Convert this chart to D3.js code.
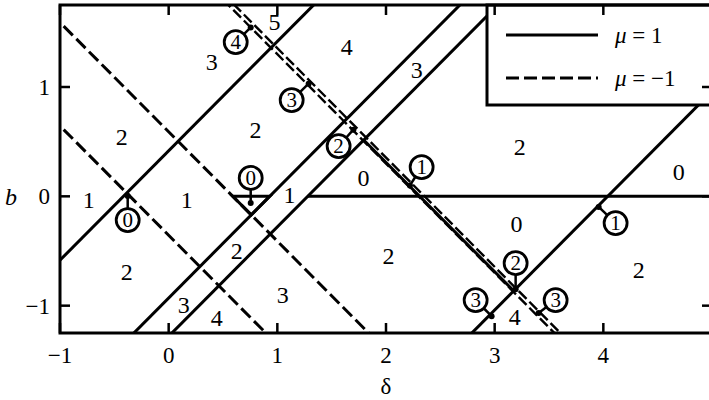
<!DOCTYPE html>
<html><head><meta charset="utf-8">
<script src="https://cdn.jsdelivr.net/npm/d3@7/dist/d3.min.js"></script>
<style>
body{margin:0;background:#fff}
svg text{font-family:"Liberation Serif","Times New Roman",Times,serif}
</style>
</head><body>
<svg id="chart" width="709" height="400"></svg>
<script>
// ---------- data ----------
const xDomain = [-1, 5];
const yDomain = [-1.25, 1.75];
const xTicks = [-1, 0, 1, 2, 3, 4];
const yTicks = [-1, 0, 1];
const xTickLabels = ["\u22121", "0", "1", "2", "3", "4"];
const yTickLabels = ["\u22121", "0", "1"];

// boundary lines b = slope*δ + intercept, drawn for δ in [from, to]
const solidSlopes     = [1, 1, 1, 1, -1, 0];
const solidIntercepts = [0.416, -0.93, -1.28, -4.04, 2.31, 0];
const solidFrom       = [-1.2, -0.5, -0.1, 2.6, 1.795, 1.28];
const solidTo         = [1.5, 2.8, 3.2, 5.2, 3.175, 5.2];

const dashedSlopes     = [-1, -1, -1, -1];
const dashedIntercepts = [0.59, -0.356, 2.30, 2.355];
const dashedFrom       = [-1.2, -1.2, 0.4, 0.4];
const dashedTo         = [2.0, 1.1, 3.7, 3.7];

// small solid triangle
const triangleDelta = [0.59, 0.93, 0.76];
const triangleB     = [0, 0, -0.17];

// region labels
const regionText  = ["5","4","3","3","2","2","2","0","1","1","1","0","0","2","2","2","2","3","3","4","4"];
const regionDelta = [0.975,1.638,0.396,2.282,-0.432,0.80,3.23,4.693,-0.736,0.166,1.113,1.794,3.202,-0.386,0.626,2.024,4.325,0.138,1.049,0.442,3.184];
const regionB     = [1.594,1.366,1.228,1.155,0.542,0.606,0.451,0.222,-0.034,-0.034,0.012,0.167,-0.253,-0.692,-0.492,-0.546,-0.674,-0.994,-0.903,-1.113,-1.104];

// circled callouts: number, circle centre, pointed point
const calloutText    = ["4","3","2","1","0","0","1","2","3","3"];
const calloutDelta   = [0.617,1.132,1.564,2.328,0.755,-0.377,4.113,3.193,2.825,3.561];
const calloutB       = [1.411,0.880,0.460,0.268,0.168,-0.217,-0.245,-0.611,-0.949,-0.949];
const calloutToDelta = [0.755,1.288,1.70,2.22,0.755,-0.377,3.957,3.193,2.972,3.405];
const calloutToB     = [1.545,1.03,0.61,0.10,-0.061,0.003,-0.097,-0.85,-1.096,-1.066];

const legendLabels = ["1", "\u22121"];

// ---------- layout ----------
const svg = d3.select("#chart");
const margin = {left: 60, top: 5, right: -3, bottom: 67};
const W = 709, H = 400;
const x = d3.scaleLinear().domain(xDomain).range([margin.left, W - margin.right]);
const y = d3.scaleLinear().domain(yDomain).range([H - margin.bottom, margin.top]);

function txt(g, px, py, s, size, anchor) {
  return g.append("text").attr("x", px).attr("y", py).attr("dy", "0.35em")
    .attr("text-anchor", anchor || "middle")
    .attr("font-family", "Liberation Serif")
    .attr("font-size", size)
    .attr("style", "font-family:'Liberation Serif',serif;font-size:" + size + "px;fill:#000")
    .text(s);
}

svg.append("defs").append("clipPath").attr("id", "clip")
  .append("rect").attr("x", x(xDomain[0])).attr("y", y(yDomain[1]))
  .attr("width", x(xDomain[1]) - x(xDomain[0])).attr("height", y(yDomain[0]) - y(yDomain[1]));

const plot = svg.append("g").attr("clip-path", "url(#clip)");

function seg(s, c, a, b) { return [[a, s * a + c], [b, s * b + c]]; }
const line = d3.line().x(d => x(d[0])).y(d => y(d[1]));

// dashed lines
dashedSlopes.forEach((s, i) => {
  const thin = i >= 2;
  plot.append("path").attr("d", line(seg(s, dashedIntercepts[i], dashedFrom[i], dashedTo[i])))
    .attr("fill", "none").attr("stroke", "#000")
    .attr("stroke-width", thin ? 2.4 : 3)
    .attr("stroke-dasharray", thin ? "11,4" : "13,5");
});

// solid lines
solidSlopes.forEach((s, i) => {
  plot.append("path").attr("d", line(seg(s, solidIntercepts[i], solidFrom[i], solidTo[i])))
    .attr("fill", "none").attr("stroke", "#000").attr("stroke-width", 3);
});

// triangle
plot.append("path")
  .attr("d", line(triangleDelta.map((d, i) => [d, triangleB[i]])) + "Z")
  .attr("fill", "none").attr("stroke", "#000").attr("stroke-width", 3).attr("stroke-linejoin", "miter");

// region labels
regionText.forEach((t, i) => {
  txt(plot, x(regionDelta[i]), y(regionB[i]), t, 24);
});

// callouts
calloutText.forEach((t, i) => {
  const cx = x(calloutDelta[i]), cy = y(calloutB[i]);
  const tx = x(calloutToDelta[i]), ty = y(calloutToB[i]);
  const r = 11.5;
  const ang = Math.atan2(ty - cy, tx - cx);
  plot.append("line").attr("x1", cx + r * Math.cos(ang)).attr("y1", cy + r * Math.sin(ang))
    .attr("x2", tx).attr("y2", ty).attr("stroke", "#000").attr("stroke-width", 2.5);
  plot.append("circle").attr("cx", tx).attr("cy", ty).attr("r", 3).attr("fill", "#000");
  plot.append("circle").attr("cx", cx).attr("cy", cy).attr("r", r)
    .attr("fill", "#fff").attr("stroke", "#000").attr("stroke-width", 2.8);
  txt(plot, cx, cy, t, 21);
});

// legend (white box over the plot corner)
const lg = svg.append("g");
lg.append("rect").attr("x", 487).attr("y", y(yDomain[1])).attr("width", 260).attr("height", 100)
  .attr("fill", "#fff").attr("stroke", "#000").attr("stroke-width", 3);
legendLabels.forEach((lab, i) => {
  const ly = 35 + i * 43;
  lg.append("line").attr("x1", 506).attr("x2", 598).attr("y1", ly).attr("y2", ly)
    .attr("stroke", "#000").attr("stroke-width", 3)
    .attr("stroke-dasharray", i === 1 ? "13,5" : null);
  const tt = txt(lg, 615, ly, "", 23, "start");
  tt.append("tspan").style("font-style", "italic").text("\u03bc");
  tt.append("tspan").text(" = " + lab);
});

// frame
svg.append("rect").attr("x", x(xDomain[0])).attr("y", y(yDomain[1]))
  .attr("width", x(xDomain[1]) - x(xDomain[0])).attr("height", y(yDomain[0]) - y(yDomain[1]))
  .attr("fill", "none").attr("stroke", "#000").attr("stroke-width", 3);

// ticks (inward, all sides)
const tl = 10;
xTicks.forEach((t, i) => {
  svg.append("line").attr("x1", x(t)).attr("x2", x(t)).attr("y1", y(yDomain[0])).attr("y2", y(yDomain[0]) - tl)
    .attr("stroke", "#000").attr("stroke-width", 2.5);
  svg.append("line").attr("x1", x(t)).attr("x2", x(t)).attr("y1", y(yDomain[1])).attr("y2", y(yDomain[1]) + tl)
    .attr("stroke", "#000").attr("stroke-width", 2.5);
  txt(svg, x(t), y(yDomain[0]) + 22, xTickLabels[i], 23);
});
yTicks.forEach((t, i) => {
  svg.append("line").attr("x1", x(xDomain[0])).attr("x2", x(xDomain[0]) + tl).attr("y1", y(t)).attr("y2", y(t))
    .attr("stroke", "#000").attr("stroke-width", 2.5);
  svg.append("line").attr("x1", x(xDomain[1])).attr("x2", x(xDomain[1]) - tl).attr("y1", y(t)).attr("y2", y(t))
    .attr("stroke", "#000").attr("stroke-width", 2.5);
  txt(svg, x(xDomain[0]) - 10, y(t), yTickLabels[i], 23, "end");
});

// axis titles
txt(svg, 11, y(0), "b", 24).style("font-style", "italic");
txt(svg, x(2), 386, "\u03b4", 23);
</script>
</body></html>
